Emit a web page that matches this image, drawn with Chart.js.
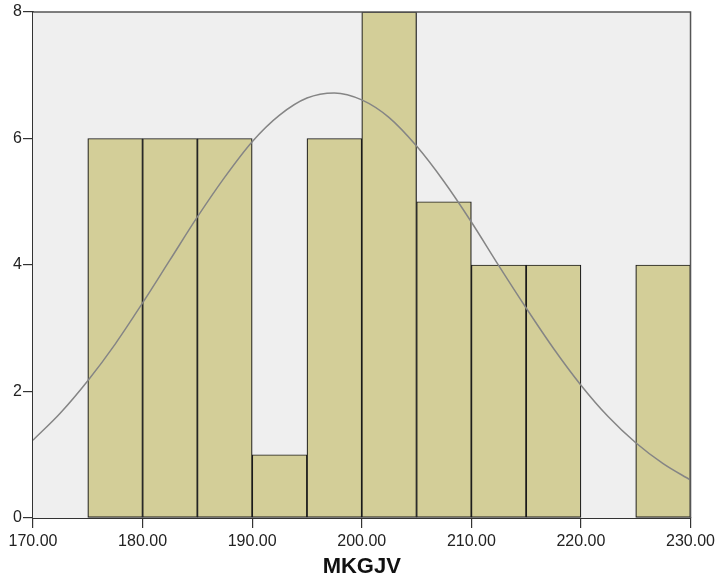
<!DOCTYPE html>
<html>
<head>
<meta charset="utf-8">
<script src="https://cdn.jsdelivr.net/npm/chart.js@4"></script>
<style>
  html, body { margin: 0; padding: 0; background: #ffffff; }
  #wrap { width: 719px; height: 577px; position: relative; }
</style>
</head>
<body>
<div id="wrap"><canvas id="c" width="719" height="577"></canvas></div>
<script>
// Histogram bins (centre of each 5-unit bin) and their frequencies
const binCenters = [177.5, 182.5, 187.5, 192.5, 197.5, 202.5, 207.5, 212.5, 217.5, 222.5, 227.5];
const binCounts  = [6, 6, 6, 1, 6, 8, 5, 4, 4, 0, 4];

// Fitted normal curve, sampled along the axis
const curveX = [170, 172.5, 175, 177.5, 180, 182.5, 185, 187.5, 190, 192.5, 195, 197.5,
                200, 202.5, 205, 207.5, 210, 212.5, 215, 217.5, 220, 222.5, 225, 227.5, 230];
const curveY = [1.23, 1.66, 2.17, 2.75, 3.40, 4.08, 4.76, 5.39, 5.95, 6.37, 6.64, 6.72,
                6.61, 6.33, 5.88, 5.32, 4.68, 3.99, 3.32, 2.68, 2.10, 1.60, 1.19, 0.86, 0.60];

// Axis ticks
const xTicks = [170, 180, 190, 200, 210, 220, 230];
const yTicks = [0, 2, 4, 6, 8];
const xTitle = 'MKGJV';

const barData = binCenters.map((x, i) => ({ x: x, y: binCounts[i] }));
const lineData = curveX.map((x, i) => ({ x: x, y: curveY[i] }));

// Plot-area background and frame
const framePlugin = {
  id: 'frame',
  beforeDatasetsDraw(chart) {
    const { ctx, chartArea: a } = chart;
    ctx.save();
    ctx.fillStyle = '#efefef';
    ctx.fillRect(a.left, a.top, a.right - a.left, a.bottom - a.top);
    ctx.restore();
  },
  afterDatasetsDraw(chart) {
    const { ctx, chartArea: a } = chart;
    ctx.save();
    ctx.strokeStyle = '#555555';
    ctx.lineWidth = 1.5;
    ctx.beginPath();
    ctx.moveTo(a.left, a.top);
    ctx.lineTo(a.right, a.top);
    ctx.lineTo(a.right, a.bottom);
    ctx.stroke();
    ctx.restore();
  }
};

const tickFont = { family: '"Liberation Sans", Arial, sans-serif', size: 16 };

new Chart(document.getElementById('c'), {
  data: {
    datasets: [
      {
        type: 'line',
        data: lineData,
        borderColor: '#858585',
        borderWidth: 1.5,
        pointRadius: 0,
        fill: false,
        cubicInterpolationMode: 'monotone',
        order: 0
      },
      {
        type: 'bar',
        data: barData,
        backgroundColor: '#d3ce98',
        borderColor: '#1a1a1a',
        borderWidth: 1.2,
        borderSkipped: false,
        barPercentage: 1.0,
        categoryPercentage: 1.0,
        order: 1
      }
    ]
  },
  options: {
    responsive: false,
    animation: false,
    events: [],
    layout: { padding: { top: 12, right: 28, left: 0, bottom: 0 } },
    plugins: {
      legend: { display: false },
      tooltip: { enabled: false }
    },
    scales: {
      x: {
        type: 'linear',
        min: 170,
        max: 230,
        offset: false,
        afterBuildTicks(scale) { scale.ticks = xTicks.map(v => ({ value: v })); },
        afterFit(scale) { scale.height = 59; },
        ticks: {
          font: tickFont,
          color: '#222222',
          padding: 4,
          maxRotation: 0,
          callback: v => v.toFixed(2)
        },
        grid: {
          offset: false,
          drawOnChartArea: false,
          drawTicks: true,
          tickLength: 10,
          color: '#333333',
          lineWidth: 1.2
        },
        border: { display: true, color: '#333333', width: 2 },
        title: {
          display: true,
          text: xTitle,
          color: '#111111',
          font: { family: '"Liberation Sans", Arial, sans-serif', size: 22, weight: 'bold' },
          padding: { top: 0, bottom: -3 }
        }
      },
      y: {
        type: 'linear',
        min: 0,
        max: 8,
        afterBuildTicks(scale) { scale.ticks = yTicks.map(v => ({ value: v })); },
        afterFit(scale) { scale.width = 33; },
        ticks: {
          font: tickFont,
          color: '#222222',
          padding: 1
        },
        grid: {
          drawOnChartArea: false,
          drawTicks: true,
          tickLength: 10,
          color: '#333333',
          lineWidth: 1.2
        },
        border: { display: true, color: '#333333', width: 2 }
      }
    }
  },
  plugins: [framePlugin]
});
</script>
</body>
</html>
